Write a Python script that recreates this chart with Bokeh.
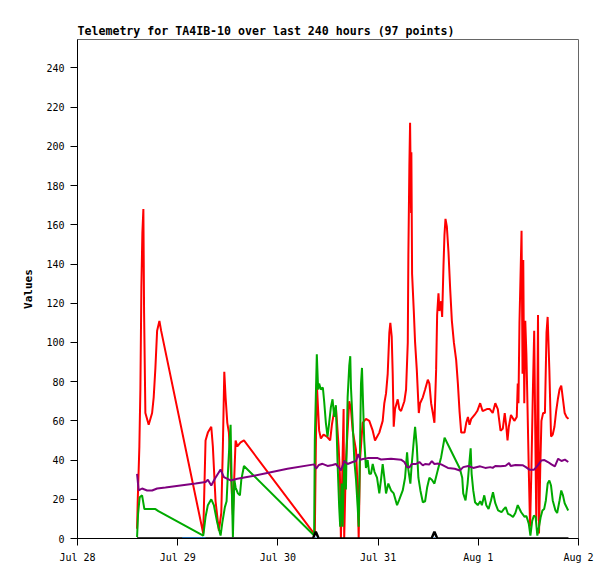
from bokeh.plotting import figure
from bokeh.models import Range1d, FixedTicker
from bokeh.embed import file_html
from bokeh.resources import INLINE

title_text = "Telemetry for TA4IB-10 over last 240 hours (97 points)"
y_label = "Values"
x_tick_hours = [0, 24, 48, 72, 96, 120]
x_tick_labels = ["Jul 28", "Jul 29", "Jul 30", "Jul 31", "Aug 1", "Aug 2"]
y_ticks = [0, 20, 40, 60, 80, 100, 120, 140, 160, 180, 200, 220, 240]

# hours since Jul 28 00:00
red_h = [14.27, 14.41, 14.82, 15.06, 15.30, 15.54, 15.78, 15.95, 16.26, 17.05, 17.87, 18.25, 18.66, 19.07, 19.62, 20.03,
         30.12, 30.67, 31.22, 32.04, 32.42, 33.07, 33.86, 34.44, 34.82, 35.16, 35.47, 35.88, 36.26, 36.67, 37.22, 37.87,
         38.28, 39.07, 39.87, 56.84, 57.08, 57.32, 57.88, 58.29, 58.93, 59.73, 60.52, 60.93, 61.48, 61.89, 62.13, 62.54,
         62.85, 63.09, 63.74, 63.88, 64.30, 65.09, 65.50, 65.91, 66.71, 67.11, 67.35, 67.66, 68.30, 69.10, 69.89, 70.71,
         71.26, 72.29, 73.10, 73.49, 73.90, 74.30, 74.69, 74.93, 75.26, 75.50, 75.74, 76.06, 76.70, 77.09, 77.50, 78.29,
         78.70, 79.11, 79.25, 79.49, 79.66, 79.90, 79.97, 80.14, 80.55, 80.86, 81.27, 81.75, 82.06, 82.71, 83.26, 83.91,
         84.29, 84.70, 85.11, 85.49, 85.90, 86.14, 86.46, 86.70, 87.10, 87.34, 87.66, 87.90, 88.14, 88.47, 88.86, 89.27,
         89.67, 90.15, 90.70, 91.11, 91.50, 91.91, 92.70, 93.11, 93.52, 93.90, 94.31, 95.10, 95.75, 96.45, 97.02, 98.06,
         98.75, 99.45, 100.07, 100.67, 101.32, 101.87, 102.33, 102.71, 103.00, 103.31, 103.82, 104.63, 105.21, 105.45,
         105.62, 105.86, 106.20, 106.36, 106.60, 106.77, 107.01, 107.25, 107.52, 107.76, 108.09, 108.40, 108.72, 109.08,
         109.39, 109.63, 109.89, 110.09, 110.30, 110.54, 110.83, 111.12, 111.53, 111.96, 112.34, 112.61, 113.02, 113.42,
         113.83, 114.24, 114.65, 115.05, 115.46, 115.87, 116.28, 116.69, 117.12, 117.60]
red_v = [5, 18, 47, 76, 128, 156, 168, 115, 64, 58, 64, 72, 87, 106, 111, 106,
         2.5, 50, 54, 57, 47, 19, 4, 13, 47, 85, 72, 59, 54, 38, 12, 50,
         47, 49, 50, 2, 45, 79, 55, 51, 53, 52, 50, 58, 65, 67, 60, 47,
         33, 0, 66, 0, 40, 70, 66, 55, 45, 25, 0, 40, 59, 61, 60, 55,
         50, 54, 60, 69, 74, 84, 105, 110, 103, 84, 57, 66, 71, 66, 65, 70,
         76, 100, 145, 190, 212, 166, 197, 135, 116, 100, 86, 64, 69, 72, 76, 81,
         79, 69, 64, 59, 86, 114, 125, 116, 121, 113, 139, 155, 163, 159, 146, 127,
         111, 100, 91, 79, 65, 54, 54, 59, 62, 58, 61, 63, 65, 69, 65, 66,
         66, 64, 69, 66, 55, 56, 64, 57, 50, 57, 63, 60, 62, 79,
         69, 110, 142, 157, 84, 142, 69, 111, 94, 70, 35, 6, 35, 76,
         106, 57, 9, 50, 114, 2.5, 35, 60, 64, 64, 105, 113, 86, 52,
         53, 57, 65, 71, 76, 78, 71, 64, 62, 61]

green_h = [14.27, 14.51, 14.89, 15.47, 16.02, 18.66, 19.38, 30.12, 30.67, 31.22, 32.04, 32.66, 33.48, 34.27, 34.68, 35.30,
           35.71, 36.02, 36.43, 36.67, 36.91, 37.22, 37.56, 37.87, 38.42, 38.90, 39.24, 39.87, 56.68, 56.84, 57.08, 57.32,
           57.64, 57.88, 58.29, 58.77, 59.08, 59.49, 59.89, 60.28, 60.69, 61.09, 61.48, 61.89, 62.30, 62.68, 62.92, 63.26,
           63.50, 63.88, 64.29, 64.70, 65.09, 65.33, 65.50, 65.91, 66.30, 66.71, 67.11, 67.35, 67.66, 67.90, 68.14, 68.38,
           68.68, 69.09, 69.50, 69.89, 70.30, 70.71, 71.14, 71.74, 72.29, 72.70, 73.10, 73.49, 73.90, 74.45, 75.10, 75.74,
           76.54, 77.09, 77.90, 78.46, 78.94, 79.25, 79.73, 80.06, 80.55, 80.86, 81.27, 81.65, 82.13, 82.71, 83.26, 83.74,
           84.29, 84.87, 85.49, 86.31, 87.10, 87.92, 91.57, 92.15, 92.39, 92.94, 93.44, 93.83, 94.17, 94.40, 94.79, 95.22,
           95.87, 96.47, 96.85, 97.43, 97.91, 98.46, 99.04, 99.52, 100.07, 100.74, 101.56, 102.11, 102.55, 103.10, 103.67,
           104.32, 104.87, 105.45, 106.27, 107.09, 107.52, 108.09, 108.48, 108.91, 109.32, 109.73, 110.14, 110.54, 110.95,
           111.36, 111.77, 112.18, 112.61, 113.02, 113.42, 113.83, 114.48, 114.89, 115.46, 115.87, 116.28, 116.69, 117.53]
green_v = [0.7, 12.6, 21, 22, 15, 15, 14, 1.5, 11, 17, 20, 17, 8, 1.5, 8, 16,
           19, 33, 50, 58, 30, 0.7, 30, 26, 23, 22, 30, 37, 1.5, 50, 72, 94,
           76, 79, 76, 77, 70, 59, 52, 59, 67, 71, 62, 68, 38, 16, 6, 28,
           6, 40, 25, 72, 88, 93, 77, 59, 40, 30, 16, 6, 45, 79, 87, 70,
           50, 36, 40, 33, 33, 38, 34, 31, 23, 30, 38, 31, 23, 28, 24.5, 23,
           17, 20, 24.5, 31, 44, 35, 28, 38, 50, 57, 47, 31, 24.5, 18.5, 19, 26,
           31, 30, 28, 35, 41.5, 51.4, 35.7, 31, 23, 19.4, 28, 38, 46, 33, 24.5, 18.5,
           17, 19, 17, 22, 17, 15, 19.4, 23.6, 18, 14.3, 13.4, 15, 16, 12.6, 12,
           11, 13, 17, 13.4, 11, 11.5, 7.6, 1.5, 9, 11.7, 11, 1.5, 6, 11,
           14.3, 15, 19.4, 28, 29.6, 27, 19.4, 14.3, 13, 19.4, 24.5, 22, 18, 14.3]

purple_h = [14.27, 14.65, 15.47, 16.67, 17.87, 19.07, 21.06, 24.66, 28.27, 30.67, 31.22, 32.04, 32.90, 34.27, 35.06, 36.67,
            38.28, 42.27, 50.29, 56.68, 57.16, 57.80, 58.69, 59.89, 61.09, 61.89, 62.68, 63.09, 63.50, 63.88, 64.70, 65.91,
            66.71, 67.26, 67.74, 68.38, 69.50, 71.90, 72.70, 75.10, 77.50, 78.29, 78.94, 79.54, 80.06, 81.09, 81.89, 82.71,
            83.26, 84.22, 84.87, 85.49, 86.38, 87.10, 88.73, 90.35, 91.57, 92.39, 93.59, 94.79, 96.45, 97.67, 98.87, 99.45,
            100.07, 101.32, 102.55, 103.37, 103.75, 104.89, 106.60, 107.40, 108.24, 109.37, 110.25, 111.08, 111.85, 112.68,
            113.52, 114.34, 115.13, 115.92, 116.74, 117.55]
purple_v = [33, 24.5, 25.5, 24.5, 24.5, 25.5, 26, 27, 28, 28.8, 30, 27, 30.5, 35.2, 31.3, 29.6,
            30.5, 32, 35.6, 37.8, 35.6, 37.5, 38.1, 37, 37.5, 38, 36, 34.7, 37, 39.5, 38, 39,
            39.5, 43, 40.2, 40.5, 41, 41, 40.3, 40.7, 40.2, 39, 36.4, 36.4, 38, 38, 39, 37.3,
            38, 37.7, 39.5, 38, 38.2, 37.8, 36, 35.6, 34.7, 36.4, 37, 36, 36.8, 36, 36.4, 36,
            37, 36.8, 37.1, 38.5, 37, 37.5, 37.4, 36.4, 35.1, 35.1, 37.3, 39.8, 40, 39,
            37.8, 36.8, 40.7, 39.5, 40.2, 39]

black_h = [14.27, 56.4, 57.08, 57.76, 84.81, 85.49, 86.17, 117.6]
black_v = [0, 0, 3.5, 0, 0, 3.5, 0, 0]

blue_h = [25.07, 30.67, float("nan"), 56.9, 57.26, float("nan"), 85.31, 85.67]
blue_v = [0, 0, float("nan"), 0, 0, float("nan"), 0, 0]

mono = "DejaVu Sans Mono"

p = figure(width=607, height=571, output_backend="svg", toolbar_location=None,
           x_range=Range1d(0, 120), y_range=Range1d(0, 254.5),
           min_border_left=77, min_border_right=29, min_border_top=39, min_border_bottom=33,
           title=title_text)
p.title.text_font = mono
p.title.text_font_size = "11.6px"
p.title.text_font_style = "bold"
p.title.text_color = "black"
p.title.align = "left"
p.title.standoff = 3
p.title.offset = 0

p.background_fill_color = "white"
p.border_fill_color = "white"
p.outline_line_color = "#666666"
p.outline_line_width = 1
p.xgrid.visible = False
p.ygrid.visible = False

for ax in (p.xaxis[0], p.yaxis[0]):
    ax.axis_line_color = "black"
    ax.major_tick_line_color = "black"
    ax.major_tick_out = 7
    ax.major_tick_in = 0
    ax.minor_tick_line_color = None
    ax.major_label_text_font = mono
    ax.major_label_text_font_size = "10px"
    ax.major_label_text_color = "black"
    ax.major_label_standoff = 6

p.xaxis.ticker = FixedTicker(ticks=x_tick_hours)
p.xaxis.major_label_overrides = {h: lab for h, lab in zip(x_tick_hours, x_tick_labels)}
p.yaxis.ticker = FixedTicker(ticks=y_ticks)
p.yaxis.axis_label = y_label
p.yaxis.axis_label_text_font = mono
p.yaxis.axis_label_text_font_size = "11px"
p.yaxis.axis_label_text_font_style = "bold"
p.yaxis.axis_label_text_color = "black"
p.yaxis.axis_label_standoff = 8

p.line(red_h, red_v, line_color="#ff0000", line_width=2)
p.line(green_h, green_v, line_color="#00aa00", line_width=2)
p.line(purple_h, purple_v, line_color="#7f007f", line_width=2)
p.line(black_h, black_v, line_color="black", line_width=2.5)
p.line(blue_h, blue_v, line_color="#1874cd", line_width=2.5)

open("out.html", "w").write(file_html(p, INLINE))
